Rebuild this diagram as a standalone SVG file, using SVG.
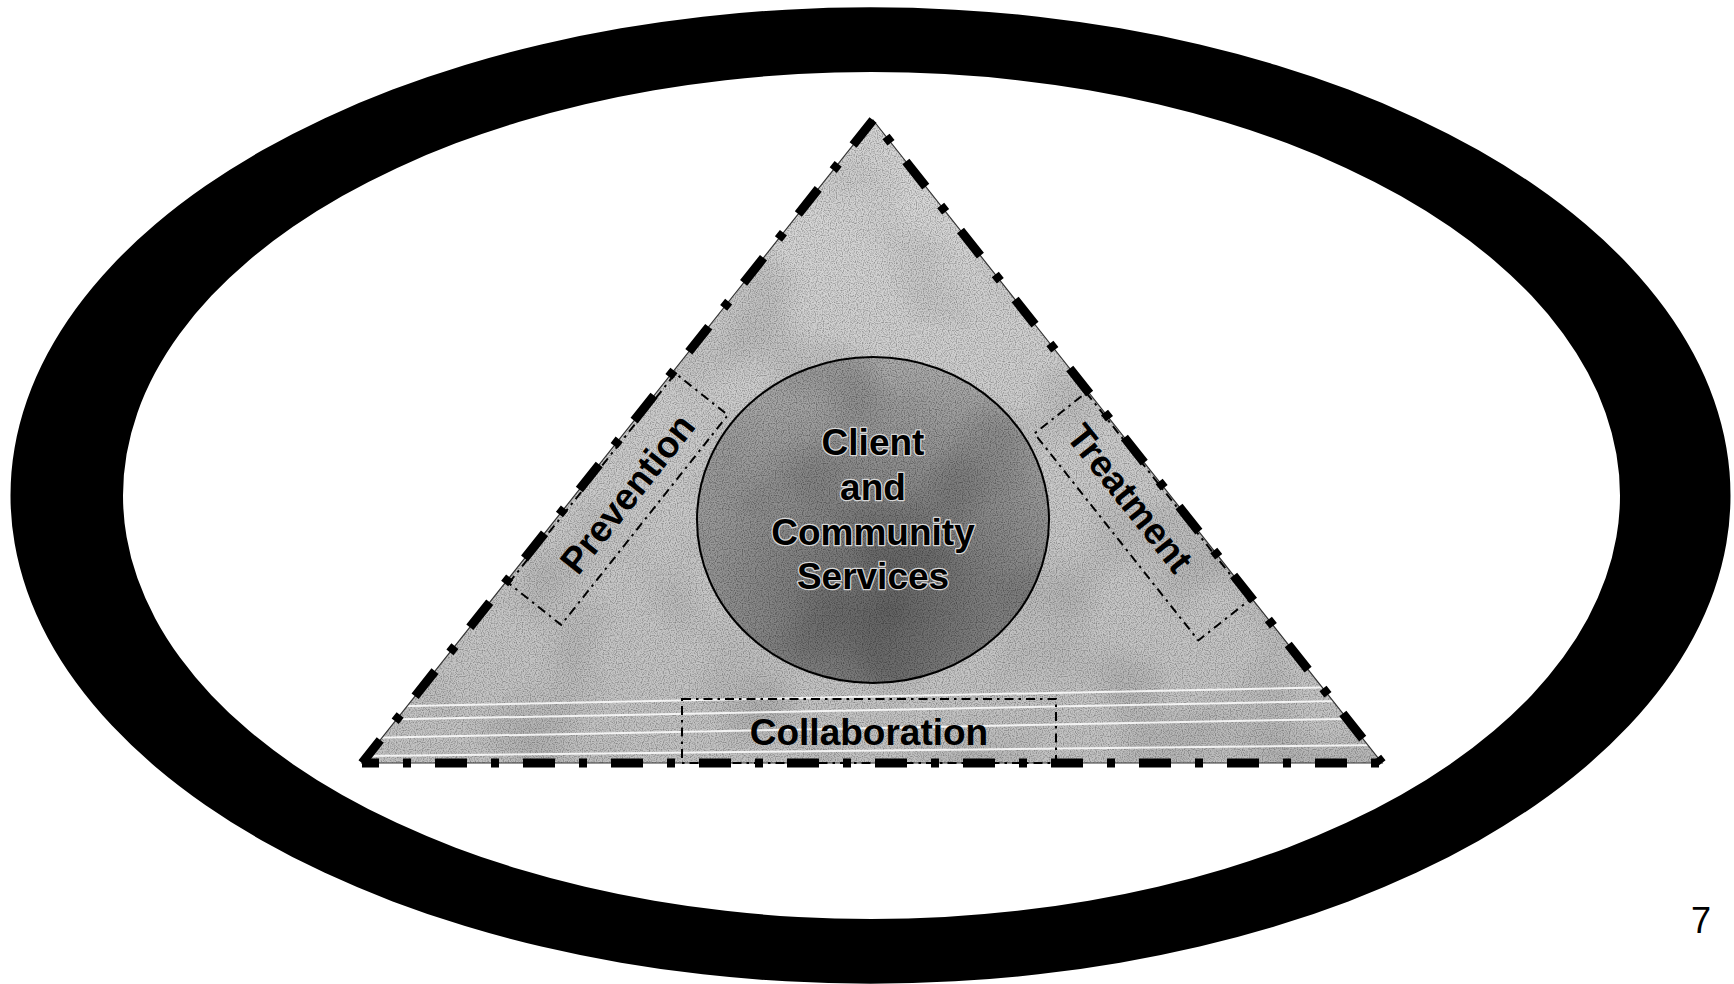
<svg xmlns="http://www.w3.org/2000/svg" width="1734" height="984" viewBox="0 0 1734 984">
  <style>
    .label { font-family: "Liberation Sans", Arial, sans-serif; font-weight: bold; font-size: 37px; fill: #000; text-anchor: middle; }
    .core-label { paint-order: stroke; stroke: #d8d8d8; stroke-width: 2.5px; stroke-linejoin: round; }
    .edge { fill: none; stroke: #000; stroke-width: 9; stroke-dasharray: 32 24 8 24; }
    .hair { fill: none; stroke: #333; stroke-width: 1.2; }
    .box { fill: none; stroke: #000; stroke-width: 2; stroke-dasharray: 9 5 2.5 5; }
    .streak { stroke: #fff; stroke-width: 2; opacity: 0.85; }
  </style>
  <defs>
    <linearGradient id="triFill" x1="0" y1="0" x2="0" y2="1">
      <stop offset="0" stop-color="#dadada"/>
      <stop offset="0.5" stop-color="#cbcbcb"/>
      <stop offset="1" stop-color="#c2c2c2"/>
    </linearGradient>
    <radialGradient id="coreFill" cx="0.55" cy="0.78" r="0.75">
      <stop offset="0" stop-color="#646464"/>
      <stop offset="0.55" stop-color="#8a8a8a"/>
      <stop offset="1" stop-color="#aaaaaa"/>
    </radialGradient>
    <!-- soft blotchy shading for the printed tint -->
    <filter id="mottle" x="0" y="0" width="100%" height="100%" filterUnits="userSpaceOnUse">
      <feTurbulence type="fractalNoise" baseFrequency="0.01" numOctaves="2" seed="7"/>
      <feColorMatrix type="matrix" values="0 0 0 0 0  0 0 0 0 0  0 0 0 0 0  2 0 0 0 -0.9"/>
    </filter>
    <!-- fine halftone grain -->
    <filter id="grain" x="0" y="0" width="100%" height="100%" filterUnits="userSpaceOnUse">
      <feTurbulence type="fractalNoise" baseFrequency="0.85" numOctaves="1" seed="3"/>
      <feColorMatrix type="matrix" values="0 0 0 0 0  0 0 0 0 0  0 0 0 0 0  3 0 0 0 -1.3"/>
    </filter>
    <clipPath id="triClip">
      <polygon points="873,120 1382,763 362,763"/>
    </clipPath>
    <clipPath id="coreClip">
      <ellipse cx="873" cy="520" rx="176" ry="163"/>
    </clipPath>
  </defs>

  <rect width="1734" height="984" fill="#fff"/>

  <!-- thick black elliptical ring -->
  <g id="ring">
    <path fill="#000" fill-rule="evenodd"
          d="M10.5,495.5 a860,488 0 1,0 1720,0 a860,488 0 1,0 -1720,0 Z
             M123,495.5 a748.5,423.5 0 1,0 1497,0 a748.5,423.5 0 1,0 -1497,0 Z"/>
  </g>

  <!-- grey triangle with dash-dot border -->
  <g id="triangle">
    <polygon points="873,120 1382,763 362,763" fill="url(#triFill)"/>
    <g clip-path="url(#triClip)">
      <rect x="360" y="118" width="1025" height="648" filter="url(#mottle)" opacity="0.12"/>
      <rect x="360" y="118" width="1025" height="648" filter="url(#grain)" opacity="0.3"/>
      <line class="streak" x1="360" y1="707" x2="1390" y2="686"/>
      <line class="streak" x1="360" y1="720" x2="1390" y2="700"/>
      <line class="streak" x1="360" y1="738" x2="1390" y2="718"/>
      <line class="streak" x1="360" y1="756" x2="1390" y2="745"/>
    </g>
    <polygon class="hair" points="873,120 1382,763 362,763"/>
    <line class="edge" x1="873" y1="120" x2="362" y2="763"/>
    <line class="edge" x1="873" y1="120" x2="1382" y2="763" stroke-dashoffset="35"/>
    <line class="edge" x1="362" y1="763" x2="1382" y2="763" stroke-dashoffset="15"/>
  </g>

  <!-- central circle -->
  <g id="core">
    <ellipse cx="873" cy="520" rx="176" ry="163" fill="url(#coreFill)"/>
    <g clip-path="url(#coreClip)">
      <rect x="695" y="355" width="356" height="330" filter="url(#mottle)" opacity="0.18"/>
      <rect x="695" y="355" width="356" height="330" filter="url(#grain)" opacity="0.35"/>
    </g>
    <ellipse cx="873" cy="520" rx="176" ry="163" fill="none" stroke="#000" stroke-width="2"/>
    <text class="label core-label" x="873" y="455">Client</text>
    <text class="label core-label" x="873" y="500">and</text>
    <text class="label core-label" x="873" y="545">Community</text>
    <text class="label core-label" x="873" y="589">Services</text>
  </g>

  <!-- left side band -->
  <g id="prevention" transform="translate(362,763) rotate(-51.53)">
    <rect class="box" x="232" y="3" width="268" height="67"/>
    <text class="label" x="376" y="53">Prevention</text>
  </g>

  <!-- right side band -->
  <g id="treatment" transform="translate(873,120) rotate(51.63)">
    <rect class="box" x="346" y="2" width="264" height="66"/>
    <text class="label" x="456" y="46">Treatment</text>
  </g>

  <!-- base band -->
  <g id="collaboration">
    <rect class="box" x="682" y="699" width="374" height="64"/>
    <text class="label" x="869" y="745">Collaboration</text>
  </g>

  <g id="page-number">
    <text x="1701" y="933" font-family="Liberation Sans, Arial, sans-serif" font-size="36" text-anchor="middle" fill="#000">7</text>
  </g>
</svg>
